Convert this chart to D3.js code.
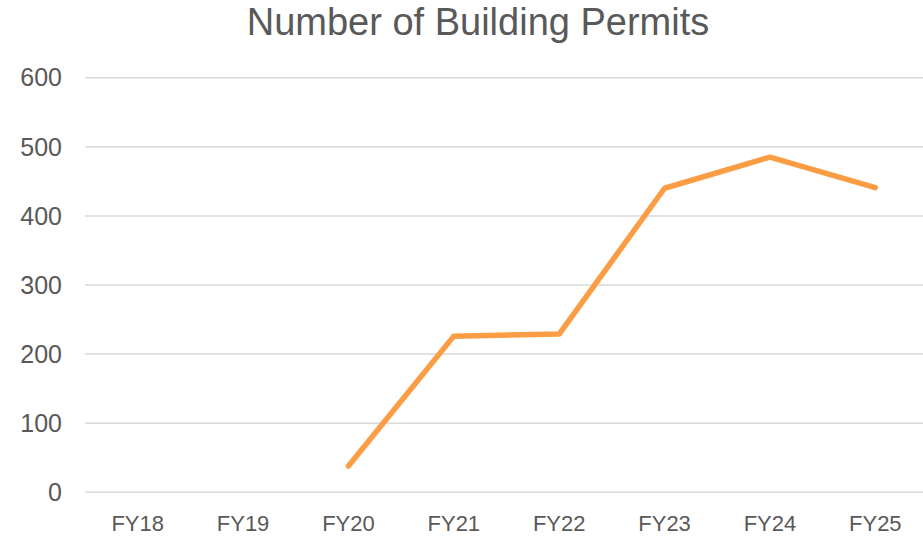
<!DOCTYPE html>
<html>
<head>
<meta charset="utf-8">
<script src="https://cdn.jsdelivr.net/npm/d3@7"></script>
<style>
  body { margin: 0; background: #fff; }
  svg text { font-family: "Liberation Sans", Arial, sans-serif; fill: #595959; }
</style>
</head>
<body>
<div id="chart"></div>
<script>
var categories = ["FY18", "FY19", "FY20", "FY21", "FY22", "FY23", "FY24", "FY25"];
var permits = [null, null, 38, 226, 229, 440, 485, 441];
var yTicks = [0, 100, 200, 300, 400, 500, 600];

var width = 923, height = 537;
var margin = {top: 77.7, right: -5, bottom: 44.7, left: 85};

var svg = d3.select("#chart")
  .append("svg")
    .attr("width", width)
    .attr("height", height);

var x = d3.scaleBand()
  .domain(categories)
  .range([margin.left, width - margin.right]);

var y = d3.scaleLinear()
  .domain([0, 600])
  .range([height - margin.bottom, margin.top]);

// gridlines
svg.append("g")
  .selectAll("line")
  .data(yTicks)
  .enter()
  .append("line")
    .attr("x1", margin.left)
    .attr("x2", width)
    .attr("y1", function(d) { return y(d); })
    .attr("y2", function(d) { return y(d); })
    .style("stroke", "#d9d9d9")
    .style("stroke-width", 1.5);

// y labels
svg.append("g")
  .selectAll("text")
  .data(yTicks)
  .enter()
  .append("text")
    .attr("x", 62)
    .attr("y", function(d) { return y(d); })
    .attr("dy", "0.35em")
    .attr("text-anchor", "end")
    .style("font-size", "25px")
    .text(function(d) { return d; });

// x labels
svg.append("g")
  .selectAll("text")
  .data(categories)
  .enter()
  .append("text")
    .attr("x", function(d) { return x(d) + x.bandwidth() / 2; })
    .attr("y", 531)
    .attr("text-anchor", "middle")
    .style("font-size", "22px")
    .text(function(d) { return d; });

// line
var line = d3.line()
  .defined(function(d) { return d.v != null; })
  .x(function(d) { return x(d.c) + x.bandwidth() / 2; })
  .y(function(d) { return y(d.v); });

var pts = categories.map(function(c, i) { return {c: c, v: permits[i]}; });

svg.append("path")
  .datum(pts)
  .attr("d", line)
  .style("fill", "none")
  .style("stroke", "#fb9d45")
  .style("stroke-width", 5.5)
  .style("stroke-linecap", "round")
  .style("stroke-linejoin", "round");

// title
svg.append("text")
  .attr("x", 478)
  .attr("y", 35)
  .attr("text-anchor", "middle")
  .style("font-size", "38px")
  .text("Number of Building Permits");
</script>
</body>
</html>
